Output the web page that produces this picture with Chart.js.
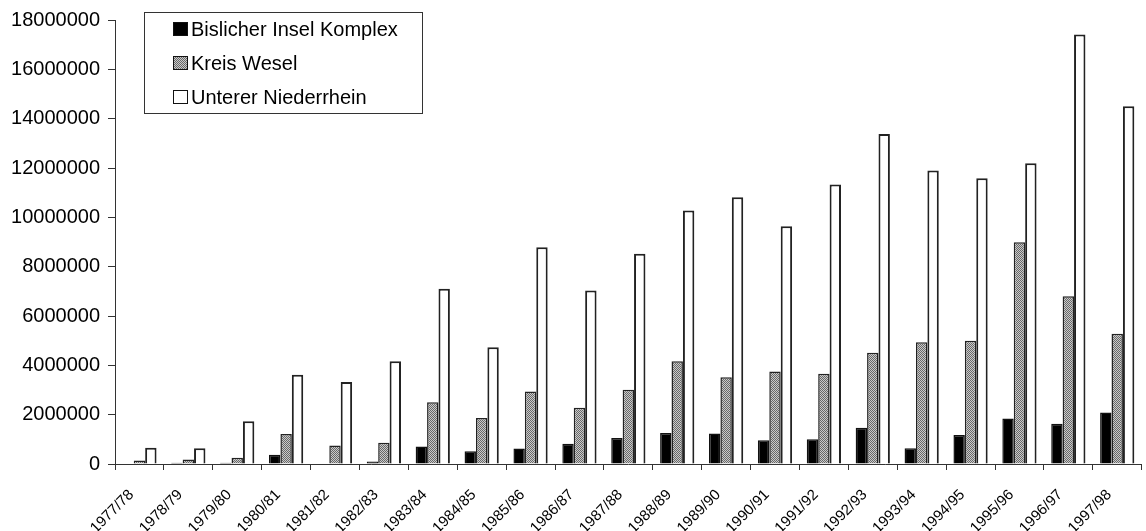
<!DOCTYPE html>
<html>
<head>
<meta charset="utf-8">
<script src="https://cdn.jsdelivr.net/npm/chart.js@4.4.1/dist/chart.umd.min.js"></script>
<style>
  html, body { margin: 0; padding: 0; background: #fff; }
  #wrap { position: relative; width: 1146px; height: 531px; }
</style>
</head>
<body>
<div id="wrap"><canvas id="c" width="1146" height="531"></canvas></div>
<script>
// Seasons
const seasons = ['1977/78','1978/79','1979/80','1980/81','1981/82','1982/83','1983/84','1984/85',
  '1985/86','1986/87','1987/88','1988/89','1989/90','1990/91','1991/92','1992/93','1993/94',
  '1994/95','1995/96','1996/97','1997/98'];

// Series values
const bislicherInsel = [null, 50000, 50000, 370000, 20000, 100000, 710000, 520000, 630000, 820000,
  1050000, 1260000, 1240000, 960000, 1000000, 1470000, 640000, 1180000, 1840000, 1630000, 2090000];
const kreisWesel = [140000, 180000, 250000, 1220000, 750000, 860000, 2500000, 1860000, 2940000, 2280000,
  3010000, 4170000, 3520000, 3750000, 3660000, 4510000, 4940000, 5000000, 8990000, 6800000, 5280000];
const untererNiederrhein = [660000, 640000, 1730000, 3620000, 3320000, 4170000, 7100000, 4730000, 8790000, 7030000,
  8520000, 10280000, 10810000, 9640000, 11330000, 13380000, 11900000, 11580000, 12190000, 17410000, 14500000];

// Series names
const seriesNames = ['Bislicher Insel Komplex', 'Kreis Wesel', 'Unterer Niederrhein'];

// Value axis
const yMin = 0, yMax = 18000000, yStep = 2000000;

const FONT = "'Liberation Sans', Arial, Helvetica, sans-serif";

// dithered grey fill
function makeDither() {
  const p = document.createElement('canvas');
  p.width = 2; p.height = 2;
  const g = p.getContext('2d');
  g.fillStyle = '#cacaca'; g.fillRect(0, 0, 2, 2);
  g.fillStyle = '#686868'; g.fillRect(0, 0, 1, 1); g.fillRect(1, 1, 1, 1);
  return g.createPattern(p, 'repeat');
}
const ctx = document.getElementById('c').getContext('2d');
const dither = makeDither();

// legend drawn inside the plot, boxed
const boxedLegend = {
  id: 'boxedLegend',
  afterDraw(chart) {
    const c = chart.ctx;
    const x0 = 144, y0 = 12, w = 278, h = 101;
    c.save();
    c.fillStyle = '#fff';
    c.fillRect(x0, y0, w, h);
    c.strokeStyle = '#333';
    c.lineWidth = 1;
    c.strokeRect(x0 + 0.5, y0 + 0.5, w, h);
    const rows = [29, 63, 97];
    c.font = '20px ' + FONT;
    c.textBaseline = 'middle';
    chart.data.datasets.forEach((ds, i) => {
      const cy = rows[i];
      c.fillStyle = ds.backgroundColor;
      c.fillRect(173, cy - 7, 15, 14);
      c.strokeStyle = '#111';
      c.lineWidth = 1;
      c.strokeRect(173.5, cy - 6.5, 14, 13);
      c.fillStyle = '#000';
      c.fillText(ds.label, 191, cy + 1);
    });
    c.restore();
  }
};

new Chart(ctx, {
  type: 'bar',
  data: {
    labels: seasons,
    datasets: [
      { label: seriesNames[0], data: bislicherInsel, backgroundColor: '#000', borderColor: '#111', borderWidth: 1.5 },
      { label: seriesNames[1], data: kreisWesel, backgroundColor: dither, borderColor: '#222', borderWidth: 1.5 },
      { label: seriesNames[2], data: untererNiederrhein, backgroundColor: '#fff', borderColor: '#222', borderWidth: 2 }
    ]
  },
  options: {
    responsive: false,
    animation: false,
    events: [],
    categoryPercentage: 0.7,
    barPercentage: 1.0,
    layout: { padding: { top: 19, right: 2, left: 0, bottom: 0 } },
    plugins: { legend: { display: false }, tooltip: { enabled: false } },
    scales: {
      x: {
        grid: { display: true, drawOnChartArea: false, drawTicks: true, tickLength: 6, color: '#333', offset: true },
        border: { display: true, color: '#333', width: 1 },
        ticks: { autoSkip: false, minRotation: 45, maxRotation: 45, color: '#000', font: { family: FONT, size: 15 },
          padding: 16, labelOffset: -8 },
        afterFit(s) { s.height = 67; }
      },
      y: {
        min: yMin, max: yMax,
        grid: { display: true, drawOnChartArea: false, drawTicks: true, tickLength: 7, color: '#333' },
        border: { display: true, color: '#333', width: 1 },
        ticks: { stepSize: yStep, color: '#000', font: { family: FONT, size: 20 }, padding: 8,
          callback: v => String(v) },
        afterFit(s) { s.width = 115; }
      }
    }
  },
  plugins: [boxedLegend]
});
</script>
</body>
</html>
